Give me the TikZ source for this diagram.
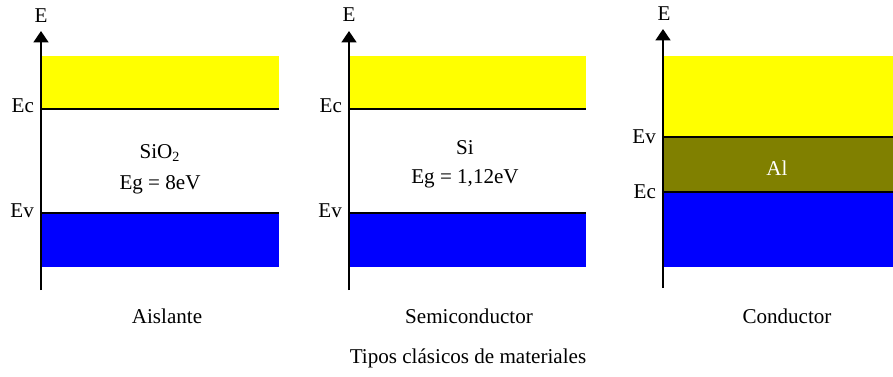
\documentclass[tikz,border=0pt]{standalone}
\usepackage{fontspec}
\setmainfont{Liberation Serif}
\usepackage{xcolor}
\usetikzlibrary{arrows.meta,positioning}

\definecolor{bandyellow}{RGB}{255,255,0}
\definecolor{bandblue}{RGB}{0,0,255}
\definecolor{bandolive}{RGB}{128,128,0}

\begin{document}
\begin{tikzpicture}[x=0.02cm, y=-0.02cm,
  axis/.style={-{Triangle[width=8.5pt,length=6.5pt]}, line width=1.1pt},
  edge/.style={line width=1.1pt},
  lvl/.style={font=\fontsize{12}{14}\selectfont, anchor=east, inner sep=1pt},
  lbl/.style={font=\fontsize{12}{14}\selectfont, align=center}
]
\useasboundingbox (0,0) rectangle (893,376);

% Aislante
\fill[bandyellow] (41,56) rectangle (279,109);
\fill[bandblue] (41,213) rectangle (279,267);
\draw[edge] (41,109) -- (279,109);
\draw[edge] (41,213) -- (279,213);
\coordinate (o1) at (41,290);
\coordinate (t1) at (41,31);
\draw[axis] (o1) -- (t1);
\node[lbl] (e1) at (41,16) {E};
\node[lvl] (ec1) at (36,106) {Ec};
\node[lvl] (ev1) at (36,211) {Ev};
\node[lbl] (mat1) at (160,153) {SiO\textsubscript{2}};
\node[lbl] (eg1) [below=1pt of mat1] {Eg = 8eV};
\node[lbl] (name1) at (167,316) {Aislante};

% Semiconductor
\fill[bandyellow] (349,56) rectangle (586,109);
\fill[bandblue] (349,213) rectangle (586,267);
\draw[edge] (349,109) -- (586,109);
\draw[edge] (349,213) -- (586,213);
\coordinate (o2) at (349,290);
\coordinate (t2) at (349,31);
\draw[axis] (o2) -- (t2);
\node[lbl] (e2) at (349,15) {E};
\node[lvl] (ec2) at (344,106) {Ec};
\node[lvl] (ev2) at (344,211) {Ev};
\node[lbl] (mat2) at (465,148) {Si};
\node[lbl] (eg2) [below=1pt of mat2] {Eg = 1,12eV};
\node[lbl] (name2) at (469,316) {Semiconductor};

% Conductor
\fill[bandyellow] (663,56) rectangle (893,137);
\fill[bandolive] (663,137) rectangle (893,192);
\fill[bandblue] (663,192) rectangle (893,267);
\draw[edge] (663,137) -- (893,137);
\draw[edge] (663,192) -- (893,192);
\coordinate (o3) at (663,288);
\coordinate (t3) at (663,29);
\draw[axis] (o3) -- (t3);
\node[lbl] (e3) at (664,14) {E};
\node[lvl] (ev3) at (658,137) {Ev};
\node[lvl] (ec3) at (658,192) {Ec};
\node[lbl, text=white] (mat3) at (777,168) {Al};
\node[lbl] (name3) at (787,316) {Conductor};

\node[lbl] (title) at (468,358) {Tipos clásicos de materiales};

\end{tikzpicture}
\end{document}
